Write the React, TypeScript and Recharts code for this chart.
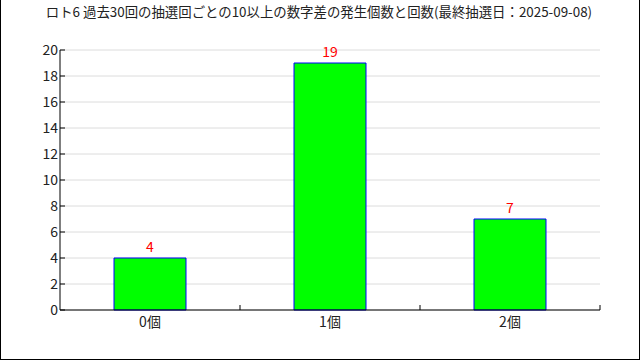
import React from 'react';
import { BarChart, Bar, XAxis, YAxis, CartesianGrid, LabelList } from 'recharts';

const categories = ['0個', '1個', '2個'];
const counts = [4, 19, 7];
const yTicks = [0, 2, 4, 6, 8, 10, 12, 14, 16, 18, 20];
const title = 'ロト6 過去30回の抽選回ごとの10以上の数字差の発生個数と回数(最終抽選日：2025-09-08)';

const data = categories.map((c, i) => ({ name: c, value: counts[i] }));

const FONT = '"Noto Sans CJK JP", "DejaVu Sans", sans-serif';

const YTick = (props: any) => {
  const { x, y, payload } = props;
  const ax = x + 3;
  return (
    <g>
      <line x1={ax} y1={y} x2={ax + 5} y2={y} stroke="#000" strokeWidth={1} />
      <text x={ax - 2} y={y} dy="0.36em" textAnchor="end" fontSize={14} fontFamily={FONT} fill="#222">
        {payload.value}
      </text>
    </g>
  );
};

const XTick = (props: any) => {
  const { x, y, payload } = props;
  const ay = y - 4;
  const half = 90;
  return (
    <g>
      <line x1={x + half} y1={ay} x2={x + half} y2={ay - 5} stroke="#000" strokeWidth={1} />
      <text x={x} y={y} dy="0.9em" textAnchor="middle" fontSize={14} fontFamily={FONT} fill="#222">
        {payload.value}
      </text>
    </g>
  );
};

export default function App() {
  return (
    <div
      style={{
        position: 'absolute',
        left: 0,
        top: 0,
        width: 640,
        height: 360,
        background: '#fff',
        boxSizing: 'border-box',
        borderLeft: '1px solid #000',
        borderRight: '1px solid #000',
        borderBottom: '1px solid #000',
      }}
    >
      <div
        style={{
          position: 'absolute',
          left: 0,
          top: 1,
          width: 636,
          textAlign: 'center',
          fontFamily: FONT,
          fontSize: 13.4,
          lineHeight: '20px',
          color: '#222',
          whiteSpace: 'nowrap',
        }}
      >
        {title}
      </div>
      <div style={{ position: 'absolute', left: -1, top: 0 }}>
        <BarChart
          width={640}
          height={360}
          data={data}
          margin={{ top: 50, right: 40, bottom: 20, left: 0 }}
          barCategoryGap="30%"
        >
          <CartesianGrid horizontal vertical={false} stroke="#dcdcdc" strokeDasharray="" />
          <XAxis
            dataKey="name"
            height={30}
            tickLine={false}
            tickSize={0}
            tickMargin={4}
            axisLine={{ stroke: '#000' }}
            tick={<XTick />}
            interval={0}
          />
          <YAxis
            width={60}
            domain={[0, 20]}
            ticks={yTicks}
            tickLine={false}
            tickSize={0}
            tickMargin={3}
            axisLine={{ stroke: '#000' }}
            tick={<YTick />}
            interval={0}
          />
          <Bar dataKey="value" fill="#00ff00" stroke="#0000ff" strokeWidth={1} isAnimationActive={false}>
            <LabelList dataKey="value" position="top" offset={6} fill="#ff0000" fontSize={14} fontFamily={FONT} />
          </Bar>
        </BarChart>
      </div>
    </div>
  );
}
